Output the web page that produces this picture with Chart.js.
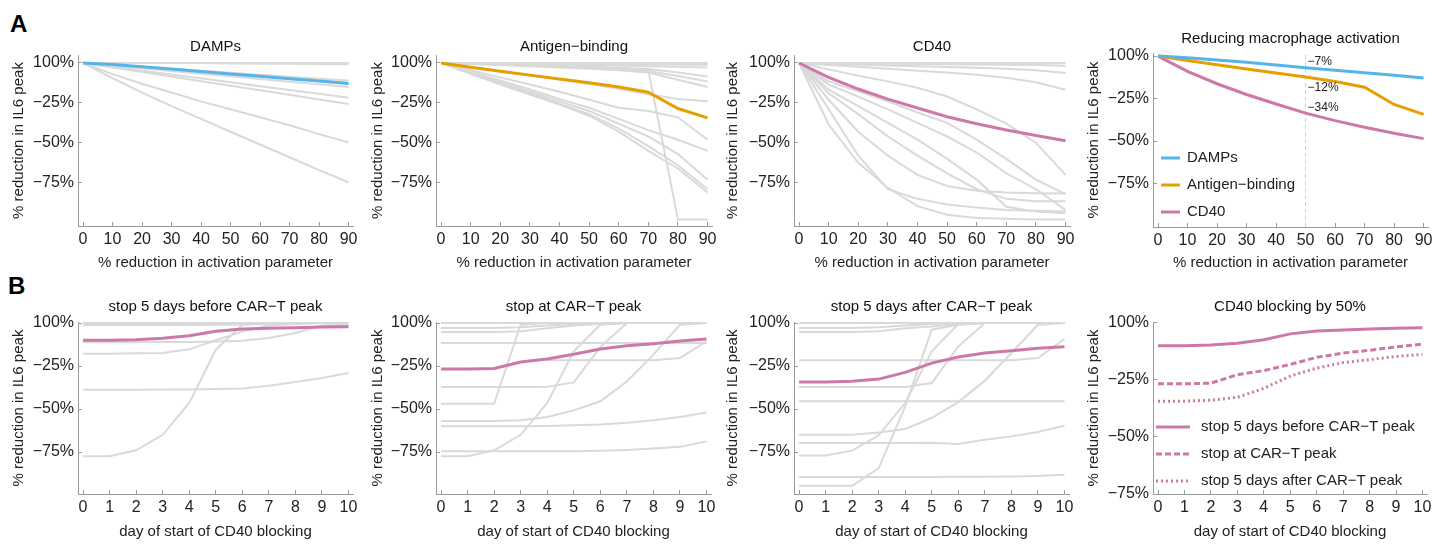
<!DOCTYPE html>
<html>
<head>
<meta charset="utf-8">
<script src="https://cdn.jsdelivr.net/npm/chart.js@4.4.1/dist/chart.umd.min.js"></script>
<style>
  body { margin: 0; width: 1447px; height: 544px; background: #fff; position: relative; overflow: hidden;
         font-family: "Liberation Sans", Arial, sans-serif; }
  canvas { position: absolute; }
  .tag { position: absolute; font-weight: bold; font-size: 24px; line-height: 1; color: #000; }
</style>
</head>
<body>
<div class="tag" style="left:10px;top:12px">A</div>
<div class="tag" style="left:8px;top:274px">B</div>
<canvas id="p1"></canvas><canvas id="p2"></canvas><canvas id="p3"></canvas><canvas id="p4"></canvas>
<canvas id="p5"></canvas><canvas id="p6"></canvas><canvas id="p7"></canvas><canvas id="p8"></canvas>
<script>
// ---- data ----
const pctSteps = [0, 10, 20, 30, 40, 50, 60, 70, 80, 90];
const days = [0, 1, 2, 3, 4, 5, 6, 7, 8, 9, 10];
const yTickVals = [0, -25, -50, -75];

const damps   = [0, -1, -2.3, -3.7, -5.3, -6.9, -8.3, -9.8, -11.3, -12.9];
const antigen = [0, -2.6, -5.1, -7.6, -10, -12.3, -15, -18.3, -28.5, -34.3];
const cd40    = [0, -9, -16.3, -22.6, -28.2, -33.6, -38, -41.9, -45.4, -48.6];

const dampsGray = [
  [0, 0, 0, 0, 0, 0, 0, 0, 0, 0],
  [0, 0, 0, 0, 0, -0.3, -0.4, -0.5, -0.6, -0.8],
  [0, -1.2, -2.4, -3.7, -4.9, -6.1, -7.3, -8.6, -9.8, -11],
  [0, -1.4, -2.8, -4.2, -5.6, -6.9, -8.3, -9.7, -11.1, -12.5],
  [0, -1.7, -3.3, -5, -6.7, -8.3, -10, -11.7, -13.3, -15],
  [0, -2.4, -4.8, -7.2, -9.6, -12, -14.5, -16.9, -19.3, -21.7],
  [0, -2.8, -5.7, -8.5, -11.4, -14.2, -17.1, -19.9, -22.8, -25.6],
  [0, -7, -13, -18.5, -24, -29, -34, -39, -44.5, -49.8],
  [0, -9.5, -18.5, -27, -35, -43, -51, -59, -67, -74.6]
];
const antigenGray = [
  [0, 0, 0, 0, 0, 0, 0, 0, 0, 0],
  [0, 0, 0, 0, -0.2, -0.4, -0.6, -0.8, -1, -1.3],
  [0, -0.2, -0.4, -0.7, -1, -1.3, -1.6, -2, -2.4, -2.9],
  [0, -0.4, -0.8, -1.3, -1.8, -2.4, -3, -3.8, -6, -8.5],
  [0, -0.5, -1, -1.6, -2.3, -3, -3.8, -5, -8.2, -11.5],
  [0, -0.6, -1.3, -2, -2.8, -3.6, -4.6, -6, -10.5, -15],
  [0, -0.5, -1, -1.5, -2, -2.6, -3.3, -4.6, -98, -98],
  [0, -2.6, -5.2, -7.8, -10.4, -13.2, -16.2, -19.5, -22.5, -24],
  [0, -4.5, -9, -13.5, -18, -23, -28, -30, -34, -48],
  [0, -5.5, -11, -16.5, -22.5, -28, -35, -42, -48, -55],
  [0, -6, -12, -18, -24, -30, -38, -46, -57, -73],
  [0, -6.5, -13, -19, -25.5, -32, -41, -52, -64, -79],
  [0, -6.7, -13.5, -19.8, -26, -33, -43, -55, -66, -81]
];
const cd40Gray = [
  [0, 0, 0, 0, 0, 0, 0, 0, 0, 0],
  [0, -0.2, -0.3, -0.5, -0.6, -0.8, -0.9, -1.1, -1.3, -1.7],
  [0, -0.5, -1, -1.5, -2, -2.5, -3, -3.6, -4.6, -6.3],
  [0, -1.2, -2.4, -3.6, -4.8, -6, -7.3, -9.2, -12, -16.7],
  [0, -4, -8, -11.5, -15.5, -21, -29, -38, -50, -70],
  [0, -11.5, -17.7, -24, -31, -37.5, -48, -60, -73, -82],
  [0, -13.5, -21, -29, -37.5, -46, -56, -69, -79, -92],
  [0, -16.7, -27, -37.5, -48, -60, -73, -90, -93, -94],
  [0, -19, -32, -46, -58, -69, -79, -85, -86.5, -86.5],
  [0, -23, -43, -58, -70, -77, -80, -81, -81.5, -81.7],
  [0, -29, -58, -79, -85, -88.5, -90.5, -92, -92.5, -93],
  [0, -38.5, -62.5, -78, -89.6, -95, -97, -97.5, -98, -98]
];

const stopBefore = [-10, -10, -9.7, -8.9, -7.4, -4.8, -3.5, -3.1, -2.7, -2.3, -2.1];
const stopAt     = [-26.7, -26.7, -26.4, -22.7, -20.9, -18.2, -15.1, -13.2, -12, -10.5, -9.3];
const stopAfter  = [-34.3, -34.3, -33.9, -32.6, -28.7, -23.3, -19.8, -17.4, -16.1, -14.7, -13.8];

const beforeGray = [
  [0, 0, 0, 0, 0, 0, 0, 0, 0, 0, 0],
  [-1.2, -1.2, -1.2, -1.2, -1.1, -1, -0.8, -0.5, -0.2, 0, 0],
  [-11.2, -11.2, -11.2, -11.1, -11, -10.8, -10.3, -8.7, -5.8, -1.5, -1],
  [-17.8, -17.8, -17.6, -17.4, -15.3, -10, -5, -1.5, -0.5, 0, 0],
  [-38.8, -38.8, -38.8, -38.7, -38.6, -38.4, -38, -36.4, -34.3, -32, -29],
  [-77.5, -77.5, -74, -65, -46.5, -15.5, -1, 0, 0, 0, 0]
];
const atGray = [
  [0, 0, 0, 0, 0, 0, 0, 0, 0, 0, 0],
  [-2.9, -2.9, -2.9, -2.5, -1.5, -0.5, 0, 0, 0, 0, 0],
  [-5.2, -5.2, -5.2, -4.8, -3, -1.5, -0.5, 0, 0, 0, 0],
  [-11.6, -11.6, -11.6, -11.6, -11.6, -11.6, -11.6, -11.6, -11.6, -11.6, -11.6],
  [-46.9, -46.9, -46.9, -1, 0, 0, 0, 0, 0, 0, 0],
  [null, null, null, null, -21.7, -21.7, -21.7, -21.7, -21.7, -20.3, -10.7],
  [-37.2, -37.2, -37.2, -37.2, -37, -34.5, -14, 0, 0, 0, 0],
  [-57, -57, -57, -56.5, -54.6, -50.8, -45.5, -34, -18.4, -1, 0],
  [-60, -60, -60, -60, -59.8, -59.5, -59, -58, -56.5, -54.6, -52],
  [-74.6, -74.6, -74.6, -74.6, -74.6, -74.5, -74.3, -73.8, -73, -72, -68.8],
  [-77.5, -77.5, -74, -65, -46.5, -16.5, -1, 0, 0, 0, 0]
];
const afterGray = [
  [0, 0, 0, 0, 0, 0, 0, 0, 0, 0, 0],
  [-2.9, -2.9, -2.9, -2.5, -1.5, -0.5, 0, 0, 0, 0, 0],
  [-5.2, -5.2, -5.2, -4.8, -3, -2, -0.6, 0, 0, 0, 0],
  [-21.7, -21.7, -21.7, -21.7, -21.7, -21.7, -21.7, -21.7, -21.7, -20.3, -9.3],
  [-37.2, -37.2, -37.2, -37.2, -37.2, -34.9, -13.6, 0, 0, 0, 0],
  [-45.5, -45.5, -45.5, -45.5, -45.5, -45.5, -45.5, -45.5, -45.5, -45.5, -45.5],
  [-65, -65, -65, -63.6, -61.6, -55.2, -46, -33.5, -17.4, -1, 0],
  [-69.8, -69.8, -69.8, -69.8, -69.8, -69.6, -70.3, -67.8, -65.9, -63.4, -59.7],
  [-77, -77, -74.2, -65.3, -46.5, -16.5, -0.6, 0, 0, 0, 0],
  [-89.5, -89.5, -89.5, -89.5, -89.5, -89.5, -89.4, -89.3, -89.2, -89, -88.2],
  [-94.6, -94.6, -94.6, -84.3, -48.4, -3.9, -1, 0, 0, 0, 0]
];

// ---- styling ----
const GRAY = '#d9d9d9', BLUE = '#56b4e9', ORANGE = '#e69f00', PINK = '#cc79a7', AXIS = '#9a9a9a';
const FONT = '"Liberation Sans", Arial, sans-serif';
Chart.defaults.font.family = FONT;
Chart.defaults.color = '#222';

const pts = (xs, ys) => xs.map((x, i) => ({x: x, y: ys[i]}));
const grayLines = (xs, rows) => rows.map(r => ({data: pts(xs, r), borderColor: GRAY, borderWidth: 2}));
const line = (xs, ys, color, label, dash) =>
  ({label: label, data: pts(xs, ys), borderColor: color, borderWidth: 3, borderDash: dash || []});
const pct = v => v === 0 ? '100%' : (v < 0 ? '\u2212' + (-v) : v) + '%';

// legend drawn inside the plot area
const insideLegend = {
  id: 'insideLegend',
  afterDatasetsDraw(chart, args, o) {
    const {ctx, chartArea} = chart;
    ctx.save();
    ctx.font = '15px ' + FONT;
    ctx.textBaseline = 'middle';
    let i = 0;
    chart.data.datasets.forEach(ds => {
      if (!ds.label) return;
      const x = chartArea.left + o.left, y = chartArea.top + o.top + i * o.row;
      ctx.strokeStyle = ds.borderColor;
      ctx.lineWidth = ds.borderWidth;
      ctx.setLineDash(ds.borderDash || []);
      ctx.beginPath(); ctx.moveTo(x, y); ctx.lineTo(x + o.len, y); ctx.stroke();
      ctx.setLineDash([]);
      ctx.fillStyle = '#222';
      ctx.fillText(ds.label, x + o.len + o.gap, y);
      i++;
    });
    ctx.restore();
  }
};

// value labels next to the 50% marker
const valueTags = {
  id: 'valueTags',
  afterDatasetsDraw(chart, args, o) {
    const {ctx, scales} = chart;
    ctx.save();
    ctx.font = '12px ' + FONT;
    ctx.fillStyle = '#222';
    ctx.textBaseline = 'middle';
    o.dy.forEach((dy, k) => {
      const p = chart.data.datasets[k].data[o.index];
      ctx.fillText('\u2212' + Math.round(-p.y) + '%', scales.x.getPixelForValue(p.x) + 2, scales.y.getPixelForValue(p.y) + dy);
    });
    ctx.restore();
  }
};

function panel(id, g, o) {
  const cv = document.getElementById(id);
  cv.width = g.w; cv.height = g.h;
  cv.style.left = g.x + 'px'; cv.style.top = g.y + 'px';
  new Chart(cv, {
    type: 'line',
    data: {datasets: o.datasets},
    plugins: o.plugins || [],
    options: {
      responsive: false,
      animation: false,
      events: [],
      layout: {padding: {left: 0, right: 15, top: 0, bottom: 0}},
      elements: {point: {radius: 0}, line: {tension: 0}},
      plugins: Object.assign({
        legend: {display: false},
        tooltip: {enabled: false}
      }, o.pluginOpts || {}),
      scales: {
        x: {
          type: 'linear', min: o.xMin, max: o.xMax,
          border: {color: AXIS},
          grid: {drawOnChartArea: false, tickLength: -4, color: AXIS},
          afterBuildTicks: s => { s.ticks = o.xTicks.map(v => ({value: v})); },
          afterFit: s => { s.height = g.xh; },
          ticks: {padding: 8, color: '#222', font: {size: 16}},
          title: {display: true, text: o.xTitle, color: '#222', font: {size: 15}, padding: {top: 0, bottom: 2}}
        },
        y: {
          min: o.yMin, max: o.yMax,
          border: {color: AXIS},
          grid: {drawOnChartArea: false, tickLength: -4, color: AXIS},
          afterBuildTicks: s => { s.ticks = yTickVals.map(v => ({value: v})); },
          afterFit: s => { s.width = g.yw; },
          ticks: {padding: 8, color: '#222', font: {size: 16}, callback: pct},
          title: {display: true, text: '% reduction in IL6 peak', color: '#222', font: {size: 15}, padding: {top: 6, bottom: 0}}
        },
        // panel title, centred over the plot area
        t: {
          axis: 'x', type: 'linear', position: 'top', min: o.xMin, max: o.xMax,
          grid: {display: false}, border: {display: false}, ticks: {display: false},
          afterFit: s => { s.height = g.th; },
          title: {display: true, text: o.title, color: '#111', font: {size: 15}, padding: {top: g.tp, bottom: 0}}
        }
      }
    }
  });
}

const topX = {xMin: -1.7, xMax: 91.5, xTicks: pctSteps, xTitle: '% reduction in activation parameter'};
const botX = {xMin: -0.19, xMax: 10.17, xTicks: days, xTitle: 'day of start of CD40 blocking'};

panel('p1', {x: 4, y: 28, w: 364, h: 246, yw: 74, xh: 48, th: 27, tp: 10},
  Object.assign({title: 'DAMPs', yMin: -102, yMax: 5,
    datasets: [line(pctSteps, damps, BLUE)].concat(grayLines(pctSteps, dampsGray))}, topX));

panel('p2', {x: 363, y: 28, w: 364, h: 246, yw: 73, xh: 48, th: 27, tp: 10},
  Object.assign({title: 'Antigen\u2212binding', yMin: -102, yMax: 5,
    datasets: [line(pctSteps, antigen, ORANGE)].concat(grayLines(pctSteps, antigenGray))}, topX));

panel('p3', {x: 718, y: 28, w: 367, h: 246, yw: 76, xh: 48, th: 27, tp: 10},
  Object.assign({title: 'CD40', yMin: -102, yMax: 5,
    datasets: [line(pctSteps, cd40, PINK)].concat(grayLines(pctSteps, cd40Gray))}, topX));

panel('p4', {x: 1079, y: 28, w: 364, h: 246, yw: 74, xh: 47, th: 25, tp: 2},
  Object.assign({title: 'Reducing macrophage activation', yMin: -100.6, yMax: 1.8,
    datasets: [
      line(pctSteps, damps, BLUE, 'DAMPs'),
      line(pctSteps, antigen, ORANGE, 'Antigen\u2212binding'),
      line(pctSteps, cd40, PINK, 'CD40'),
      {data: [{x: 50, y: -100.6}, {x: 50, y: 1.8}], borderColor: '#cfcfcf', borderWidth: 1, borderDash: [4, 3]}
    ],
    plugins: [insideLegend, valueTags],
    pluginOpts: {
      insideLegend: {left: 8, top: 105, row: 27, len: 19, gap: 7},
      valueTags: {index: 5, dy: [-6, 11, -5]}
    }}, topX));

panel('p5', {x: 4, y: 285, w: 364, h: 258, yw: 74, xh: 49, th: 37, tp: 13},
  Object.assign({title: 'stop 5 days before CAR\u2212T peak', yMin: -99.4, yMax: 0.6,
    datasets: [line(days, stopBefore, PINK)].concat(grayLines(days, beforeGray))}, botX));

panel('p6', {x: 363, y: 285, w: 363, h: 258, yw: 73, xh: 49, th: 37, tp: 13},
  Object.assign({title: 'stop at CAR\u2212T peak', yMin: -99.4, yMax: 0.6,
    datasets: [line(days, stopAt, PINK)].concat(grayLines(days, atGray))}, botX));

panel('p7', {x: 718, y: 285, w: 366, h: 258, yw: 76, xh: 49, th: 37, tp: 13},
  Object.assign({title: 'stop 5 days after CAR\u2212T peak', yMin: -99.4, yMax: 0.6,
    datasets: [line(days, stopAfter, PINK)].concat(grayLines(days, afterGray))}, botX));

panel('p8', {x: 1079, y: 285, w: 363, h: 258, yw: 74, xh: 49, th: 37, tp: 13},
  Object.assign({title: 'CD40 blocking by 50%', yMin: -75, yMax: 0.4,
    datasets: [
      line(days, stopBefore, PINK, 'stop 5 days before CAR\u2212T peak'),
      line(days, stopAt, PINK, 'stop at CAR\u2212T peak', [6, 3]),
      line(days, stopAfter, PINK, 'stop 5 days after CAR\u2212T peak', [2, 3])
    ],
    plugins: [insideLegend],
    pluginOpts: {insideLegend: {left: 3, top: 105, row: 27, len: 34, gap: 11}}}, botX));
</script>
</body>
</html>
